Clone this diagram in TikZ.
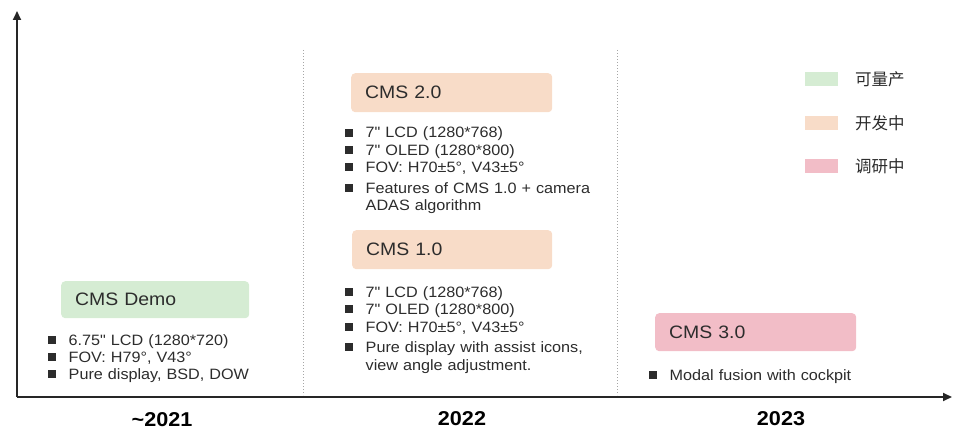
\documentclass[tikz,border=0pt]{standalone}
\usepackage{fontspec}
\setmainfont{Liberation Sans}[FakeStretch=1.08]
\newfontfamily\rawfont{Liberation Sans}[FakeStretch=1.08, Ligatures=TeXOff]
\newfontfamily\cjkfont{Noto Sans CJK SC}
\usetikzlibrary{arrows.meta}

\definecolor{prodgreen}{HTML}{D5ECD3}
\definecolor{devpeach}{HTML}{F8DCC8}
\definecolor{studypink}{HTML}{F2BDC7}
\definecolor{inktext}{HTML}{2C2C2C}
\definecolor{axisgray}{HTML}{262626}
\definecolor{divgray}{HTML}{A6A6A6}

% square bullet followed by the gap to the item text
\newcommand{\sqbullet}{\rule[1.4pt]{8pt}{8pt}\hspace{12.5pt}}
\newcommand{\itemgap}{\hspace*{20.5pt}}
% straight inch mark, set without the TeX quote mapping
\newcommand{\inchmark}{{\rawfont\char"22\relax}}

\tikzset{
  stagebox/.style={rounded corners=4pt, anchor=north west, inner ysep=0pt,
    inner xsep=14pt, align=left, text=inktext,
    font=\fontsize{18}{20}\selectfont},
  bulletlist/.style={anchor=base west, inner sep=0pt, align=left,
    text width=260pt, text=inktext,
    font=\fontsize{15}{17.3}\selectfont},
  yearlabel/.style={font=\fontsize{20}{22}\selectfont\bfseries, text=black, inner sep=0pt},
  swatch/.style={minimum width=33pt, minimum height=14pt, inner sep=0pt},
  legendtext/.style={anchor=west, inner sep=0pt, text=inktext,
    font=\fontsize{16.5}{18}\selectfont\cjkfont},
  axisline/.style={line width=1.8pt, draw=axisgray,
    -{Triangle[length=9pt,width=8pt]}},
  divider/.style={draw=divgray, line width=1pt, dotted}
}

\begin{document}
\begin{tikzpicture}[x=1pt, y=-1pt]
\useasboundingbox (0,0) rectangle (953,430);

% axes
\coordinate (origin) at (17,397);
\coordinate (ytip) at (17,11);
\coordinate (xtip) at (952,397);
\draw[axisline] (origin) -- (ytip);
\draw[axisline] (origin) -- (xtip);

% dotted dividers between years
\coordinate (divAtop) at (303,50);
\coordinate (divAbot) at (303,395);
\coordinate (divBtop) at (617,50);
\coordinate (divBbot) at (617,395);
\draw[divider] (divAtop) -- (divAbot);
\draw[divider] (divBtop) -- (divBbot);

% year labels
\node[yearlabel] (y2021) at (162,420) {\textasciitilde 2021};
\node[yearlabel] (y2022) at (462,419) {2022};
\node[yearlabel] (y2023) at (781,419) {2023};

% ~2021: CMS Demo
\node[stagebox, fill=prodgreen, text width=160pt, minimum height=37pt] (demo) at (61,281) {CMS Demo};
\node[bulletlist] (demolist) at (48,345) {%
  \sqbullet 6.75\inchmark{} LCD (1280*720)\\
  \sqbullet FOV: H79°, V43°\\
  \sqbullet Pure display, BSD, DOW};

% 2022: CMS 2.0
\node[stagebox, fill=devpeach, text width=173pt, minimum height=39pt] (cmstwo) at (351,73) {CMS 2.0};
\node[bulletlist] (twolist) at (345,138) {%
  \sqbullet 7\inchmark{} LCD (1280*768)\\
  \sqbullet 7\inchmark{} OLED (1280*800)\\
  \sqbullet FOV: H70±5°, V43±5°\\[3.5pt]
  \sqbullet Features of CMS 1.0 + camera\\
  \itemgap ADAS algorithm};

% 2022: CMS 1.0
\node[stagebox, fill=devpeach, text width=172pt, minimum height=39pt] (cmsone) at (352,230) {CMS 1.0};
\node[bulletlist] (onelist) at (345,297.5) {%
  \sqbullet 7\inchmark{} LCD (1280*768)\\
  \sqbullet 7\inchmark{} OLED (1280*800)\\
  \sqbullet FOV: H70±5°, V43±5°\\[3.5pt]
  \sqbullet Pure display with assist icons,\\
  \itemgap view angle adjustment.};

% 2023: CMS 3.0
\node[stagebox, fill=studypink, text width=173pt, minimum height=38pt] (cmsthree) at (655,313) {CMS 3.0};
\node[bulletlist] (threelist) at (649,380.5) {%
  \sqbullet Modal fusion with cockpit};

% legend
\node[swatch, fill=prodgreen] (keyprod) at (821.5,79) {};
\node[swatch, fill=devpeach] (keydev) at (821.5,123) {};
\node[swatch, fill=studypink] (keystudy) at (821.5,166) {};
\node[legendtext] (txtprod) at (855,79) {可量产};
\node[legendtext] (txtdev) at (855,123) {开发中};
\node[legendtext] (txtstudy) at (855,166) {调研中};
\end{tikzpicture}
\end{document}
